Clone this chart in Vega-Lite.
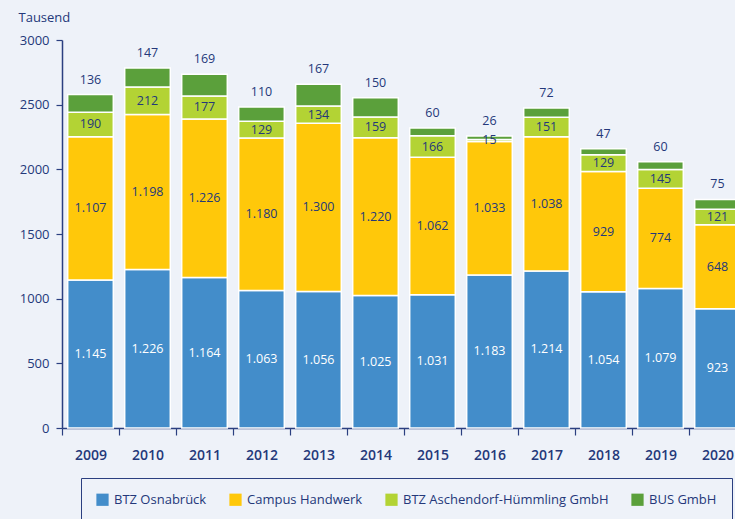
{
  "$schema": "https://vega.github.io/schema/vega-lite/v6.json",
  "autosize": "none",
  "width": 673,
  "height": 388,
  "padding": {"left": 62, "top": 40, "right": 0, "bottom": 91},
  "background": "#eef2f9",
  "config": {
    "view": {"stroke": null},
    "font": "Open Sans",
    "locale": {"number": {"decimal": ",", "thousands": ".", "grouping": [3], "currency": ["", " €"]}}
  },
  "data": {"values": [
    {"year":"2009","series":"BTZ Osnabrück","o":1,"value":1145},
    {"year":"2009","series":"Campus Handwerk","o":2,"value":1107},
    {"year":"2009","series":"BTZ Aschendorf-Hümmling GmbH","o":3,"value":190},
    {"year":"2009","series":"BUS GmbH","o":4,"value":136},
    {"year":"2010","series":"BTZ Osnabrück","o":1,"value":1226},
    {"year":"2010","series":"Campus Handwerk","o":2,"value":1198},
    {"year":"2010","series":"BTZ Aschendorf-Hümmling GmbH","o":3,"value":212},
    {"year":"2010","series":"BUS GmbH","o":4,"value":147},
    {"year":"2011","series":"BTZ Osnabrück","o":1,"value":1164},
    {"year":"2011","series":"Campus Handwerk","o":2,"value":1226},
    {"year":"2011","series":"BTZ Aschendorf-Hümmling GmbH","o":3,"value":177},
    {"year":"2011","series":"BUS GmbH","o":4,"value":169},
    {"year":"2012","series":"BTZ Osnabrück","o":1,"value":1063},
    {"year":"2012","series":"Campus Handwerk","o":2,"value":1180},
    {"year":"2012","series":"BTZ Aschendorf-Hümmling GmbH","o":3,"value":129},
    {"year":"2012","series":"BUS GmbH","o":4,"value":110},
    {"year":"2013","series":"BTZ Osnabrück","o":1,"value":1056},
    {"year":"2013","series":"Campus Handwerk","o":2,"value":1300},
    {"year":"2013","series":"BTZ Aschendorf-Hümmling GmbH","o":3,"value":134},
    {"year":"2013","series":"BUS GmbH","o":4,"value":167},
    {"year":"2014","series":"BTZ Osnabrück","o":1,"value":1025},
    {"year":"2014","series":"Campus Handwerk","o":2,"value":1220},
    {"year":"2014","series":"BTZ Aschendorf-Hümmling GmbH","o":3,"value":159},
    {"year":"2014","series":"BUS GmbH","o":4,"value":150},
    {"year":"2015","series":"BTZ Osnabrück","o":1,"value":1031},
    {"year":"2015","series":"Campus Handwerk","o":2,"value":1062},
    {"year":"2015","series":"BTZ Aschendorf-Hümmling GmbH","o":3,"value":166},
    {"year":"2015","series":"BUS GmbH","o":4,"value":60},
    {"year":"2016","series":"BTZ Osnabrück","o":1,"value":1183},
    {"year":"2016","series":"Campus Handwerk","o":2,"value":1033},
    {"year":"2016","series":"BTZ Aschendorf-Hümmling GmbH","o":3,"value":15},
    {"year":"2016","series":"BUS GmbH","o":4,"value":26},
    {"year":"2017","series":"BTZ Osnabrück","o":1,"value":1214},
    {"year":"2017","series":"Campus Handwerk","o":2,"value":1038},
    {"year":"2017","series":"BTZ Aschendorf-Hümmling GmbH","o":3,"value":151},
    {"year":"2017","series":"BUS GmbH","o":4,"value":72},
    {"year":"2018","series":"BTZ Osnabrück","o":1,"value":1054},
    {"year":"2018","series":"Campus Handwerk","o":2,"value":929},
    {"year":"2018","series":"BTZ Aschendorf-Hümmling GmbH","o":3,"value":129},
    {"year":"2018","series":"BUS GmbH","o":4,"value":47},
    {"year":"2019","series":"BTZ Osnabrück","o":1,"value":1079},
    {"year":"2019","series":"Campus Handwerk","o":2,"value":774},
    {"year":"2019","series":"BTZ Aschendorf-Hümmling GmbH","o":3,"value":145},
    {"year":"2019","series":"BUS GmbH","o":4,"value":60},
    {"year":"2020","series":"BTZ Osnabrück","o":1,"value":923},
    {"year":"2020","series":"Campus Handwerk","o":2,"value":648},
    {"year":"2020","series":"BTZ Aschendorf-Hümmling GmbH","o":3,"value":121},
    {"year":"2020","series":"BUS GmbH","o":4,"value":75}
  ]},
  "encoding": {
    "x": {
      "field": "year", "type": "ordinal",
      "scale": {"range": [0, 684], "paddingInner": 0, "paddingOuter": 0},
      "axis": {
        "title": null, "labelAngle": 0, "tickBand": "extent",
        "domainColor": "#2b3f80", "domainWidth": 1.5, "tickColor": "#2b3f80", "tickWidth": 1.2, "tickSize": 7,
        "labelColor": "#24387a", "labelFontSize": 14, "labelFontWeight": 600, "labelPadding": 13
      }
    }
  },
  "layer": [
    {
      "mark": {"type": "bar", "stroke": "white", "strokeWidth": 1.5, "width": {"band": 0.8}},
      "encoding": {
        "y": {
          "field": "value", "type": "quantitative", "stack": "zero",
          "scale": {"domain": [0, 3000]},
          "axis": {
            "values": [0, 500, 1000, 1500, 2000, 2500, 3000], "format": "d", "grid": false,
            "domainColor": "#2b3f80", "domainWidth": 1.5, "tickColor": "#2b3f80", "tickWidth": 1.2, "tickSize": 6,
            "labelColor": "#24387a", "labelFontSize": 13, "labelPadding": 7,
            "title": "Tausend", "titleAngle": 0, "titleAlign": "left", "titleBaseline": "middle",
            "titleX": -44, "titleY": -23, "titleFontSize": 13, "titleFontWeight": "normal", "titleColor": "#24387a"
          }
        },
        "color": {
          "field": "series", "type": "nominal",
          "scale": {
            "domain": ["BTZ Osnabrück", "Campus Handwerk", "BTZ Aschendorf-Hümmling GmbH", "BUS GmbH"],
            "range": ["#438dca", "#ffc80a", "#b3d334", "#5ba03b"]
          },
          "legend": {
            "orient": "none", "legendX": 19, "legendY": 438, "direction": "horizontal", "title": null,
            "strokeColor": "#2b3f80", "padding": 15, "symbolType": "square", "symbolSize": 150, "symbolStrokeWidth": 0,
            "labelFontSize": 13, "labelColor": "#24387a", "columnPadding": 22, "labelOffset": 5, "labelLimit": 400
          }
        },
        "order": {"field": "o", "type": "quantitative"}
      }
    },
    {
      "mark": {"type": "text", "fontSize": 12.5, "baseline": "middle"},
      "encoding": {
        "y": {"field": "value", "type": "quantitative", "stack": "zero", "bandPosition": 0.5},
        "order": {"field": "o", "type": "quantitative"},
        "text": {"condition": {"test": "datum.series !== 'BUS GmbH'", "field": "value", "type": "quantitative", "format": ",d"}, "value": ""},
        "color": {"condition": {"test": "datum.series === 'BTZ Osnabrück'", "value": "white"}, "value": "#24387a"}
      }
    },
    {
      "mark": {"type": "text", "fontSize": 12.5, "baseline": "bottom", "dy": -8, "color": "#24387a"},
      "encoding": {
        "y": {"field": "value", "type": "quantitative", "stack": "zero"},
        "order": {"field": "o", "type": "quantitative"},
        "text": {"condition": {"test": "datum.series === 'BUS GmbH'", "field": "value", "type": "quantitative", "format": ",d"}, "value": ""}
      }
    }
  ]
}
